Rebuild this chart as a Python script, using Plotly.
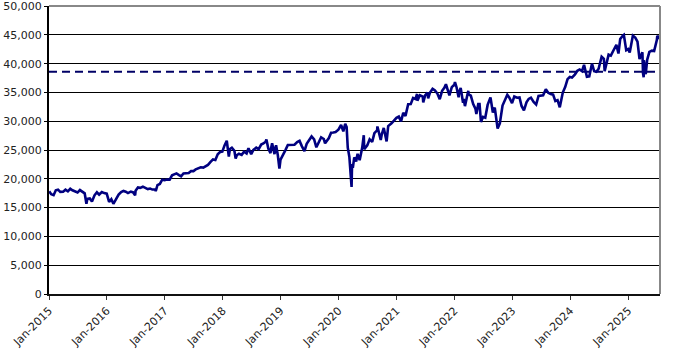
import plotly.graph_objects as go

# ---- data ----
dates = [
 "2015-01-02","2015-01-15","2015-01-30","2015-02-13","2015-02-27","2015-03-13","2015-03-31","2015-04-15","2015-04-30",
 "2015-05-15","2015-05-29","2015-06-15","2015-06-30","2015-07-15","2015-07-31","2015-08-14","2015-08-25","2015-08-31",
 "2015-09-15","2015-09-29","2015-10-15","2015-10-30","2015-11-13","2015-11-30","2015-12-15","2015-12-31",
 "2016-01-15","2016-01-29","2016-02-11","2016-02-29","2016-03-15","2016-03-31","2016-04-15","2016-04-29","2016-05-13",
 "2016-05-31","2016-06-15","2016-06-27","2016-06-30","2016-07-15","2016-07-29","2016-08-15","2016-08-31","2016-09-15",
 "2016-09-30","2016-10-14","2016-10-31","2016-11-04","2016-11-15","2016-11-30","2016-12-15","2016-12-30",
 "2017-01-13","2017-01-31","2017-02-15","2017-02-28","2017-03-15","2017-03-31","2017-04-13","2017-04-28","2017-05-15",
 "2017-05-31","2017-06-15","2017-06-30","2017-07-14","2017-07-31","2017-08-15","2017-08-31","2017-09-15","2017-09-29",
 "2017-10-13","2017-10-31","2017-11-15","2017-11-30","2017-12-15","2017-12-29",
 "2018-01-12","2018-01-26","2018-02-08","2018-02-15","2018-02-27","2018-03-15","2018-03-23","2018-03-30","2018-04-13",
 "2018-04-30","2018-05-15","2018-05-31","2018-06-12","2018-06-29","2018-07-13","2018-07-31","2018-08-15","2018-08-31",
 "2018-09-14","2018-09-28","2018-10-03","2018-10-15","2018-10-29","2018-10-31","2018-11-08","2018-11-23","2018-11-30",
 "2018-12-03","2018-12-14","2018-12-24","2018-12-31",
 "2019-01-15","2019-01-31","2019-02-15","2019-02-28","2019-03-15","2019-03-29","2019-04-15","2019-04-30","2019-05-15",
 "2019-05-31","2019-06-14","2019-06-28","2019-07-15","2019-07-31","2019-08-14","2019-08-30","2019-09-13","2019-09-30",
 "2019-10-08","2019-10-31","2019-11-15","2019-11-29","2019-12-13","2019-12-31",
 "2020-01-17","2020-01-31","2020-02-12","2020-02-21","2020-02-28","2020-03-09","2020-03-16","2020-03-23","2020-03-26",
 "2020-03-31","2020-04-09","2020-04-21","2020-04-30","2020-05-13","2020-05-29","2020-06-08","2020-06-11","2020-06-30",
 "2020-07-15","2020-07-31","2020-08-14","2020-08-31","2020-09-02","2020-09-23","2020-09-30","2020-10-12","2020-10-30",
 "2020-11-09","2020-11-30","2020-12-15","2020-12-31",
 "2021-01-15","2021-01-29","2021-02-12","2021-02-26","2021-03-15","2021-03-31","2021-04-15","2021-04-30","2021-05-10",
 "2021-05-12","2021-05-28","2021-06-15","2021-06-18","2021-06-30","2021-07-15","2021-07-19","2021-07-30","2021-08-16",
 "2021-08-31","2021-09-15","2021-09-30","2021-10-15","2021-10-29","2021-11-08","2021-11-30","2021-12-15","2021-12-31",
 "2022-01-04","2022-01-14","2022-01-27","2022-01-31","2022-02-09","2022-02-24","2022-02-28","2022-03-08","2022-03-29",
 "2022-03-31","2022-04-14","2022-04-29","2022-05-13","2022-05-19","2022-05-31","2022-06-08","2022-06-17","2022-06-30",
 "2022-07-14","2022-07-29","2022-08-16","2022-08-31","2022-09-12","2022-09-30","2022-10-14","2022-10-31","2022-11-15",
 "2022-11-30","2022-12-13","2022-12-30",
 "2023-01-13","2023-01-31","2023-02-15","2023-02-28","2023-03-15","2023-03-31","2023-04-14","2023-04-28","2023-05-15",
 "2023-05-31","2023-06-15","2023-06-30","2023-07-14","2023-07-31","2023-08-15","2023-08-31","2023-09-15","2023-09-29",
 "2023-10-13","2023-10-27","2023-10-31","2023-11-15","2023-11-30","2023-12-15","2023-12-29",
 "2024-01-12","2024-01-31","2024-02-15","2024-02-29","2024-03-15","2024-03-28","2024-04-15","2024-04-30","2024-05-17",
 "2024-05-31","2024-06-14","2024-06-28","2024-07-17","2024-07-31","2024-08-05","2024-08-30","2024-09-13","2024-09-30",
 "2024-10-18","2024-10-31","2024-11-11","2024-11-29","2024-12-04","2024-12-19","2024-12-31",
 "2025-01-10","2025-01-30","2025-02-14","2025-02-28","2025-03-13","2025-03-31","2025-04-04","2025-04-08","2025-04-09",
 "2025-04-21","2025-04-30","2025-05-14","2025-05-30","2025-06-13","2025-06-30","2025-07-03","2025-07-10","2025-07-18",
]
index_values = [
 17833,17320,17165,18019,18133,17749,17776,18112,17841,
 18272,18011,17791,17620,18050,17690,17477,15666,16528,
 16599,16049,17141,17664,17245,17720,17524,17425,
 15988,16466,15660,16517,17251,17685,17898,17774,17535,
 17787,17640,17140,17930,18517,18432,18636,18401,18212,
 18308,18138,18142,17888,18923,19124,19852,19763,
 19885,19864,20611,20812,20950,20663,20453,20941,20981,
 21009,21360,21350,21638,21891,22000,21948,22268,22405,
 22871,23377,23272,24272,24651,24719,
 25803,26617,23860,25200,25410,24873,23533,24103,24360,
 24163,24706,24416,25320,24271,25019,25415,25162,25965,
 26154,26458,26828,25250,24443,25116,26191,24286,25538,
 25826,24100,21792,23327,
 24065,24999,25883,25916,25849,25929,26385,26593,25648,
 24815,26090,26600,27359,26864,25479,26403,27220,26917,
 26164,27046,28005,28051,28135,28538,
 29348,28256,29551,28992,25409,23851,20188,18592,22552,
 21917,23719,23018,24346,23247,25383,27572,25128,25813,
 26870,26428,27931,28430,29100,26763,27782,28838,26502,
 29158,29639,30199,30606,
 30814,29983,31458,30932,32953,32982,34035,33875,34743,
 33587,34529,34299,33290,34503,34987,33962,34935,35625,
 35361,34814,33844,35295,35820,36432,34484,35927,36338,
 36799,35912,34160,35132,35768,33224,33893,32632,35294,
 34678,34451,32977,32196,31253,32990,33000,29888,30775,
 30630,32845,34152,31510,32381,28726,29634,32733,33593,
 34590,34108,33147,
 34303,34086,34128,32657,31875,33274,33886,34098,33349,
 32908,34408,34408,34509,35560,34946,34722,34618,33508,
 33670,32418,33053,34991,35951,37306,37690,
 37593,38150,38773,38996,38715,39807,37735,37816,40003,
 38686,38589,39119,41198,40843,38703,41563,41394,42330,
 43276,41763,44293,44911,45014,42342,42544,
 41938,44882,44546,43841,40813,42002,38315,37645,40608,
 38170,40669,42051,42270,42197,44095,44828,44650,44342,
]
reference_level = 38600
x_range = ["2015-01-01", "2025-07-20"]
tick_dates = [f"{y}-01-01" for y in range(2015, 2026)]
tick_labels = [f"Jan-{y}" for y in range(2015, 2026)]
y_ticks = list(range(0, 50001, 5000))
y_tick_labels = [f"{v:,}" for v in y_ticks]

NAVY = "#000080"

fig = go.Figure()
fig.add_trace(go.Scatter(
    x=x_range, y=[reference_level, reference_level], mode="lines",
    line=dict(color="#000066", width=2, dash="8px,5px"), showlegend=False, hoverinfo="skip"))
fig.add_trace(go.Scatter(
    x=dates, y=index_values, mode="lines",
    line=dict(color=NAVY, width=2.6), showlegend=False))

# gray frame on top and right
fig.add_shape(type="line", xref="paper", yref="paper", x0=0, x1=1, y0=1, y1=1,
              line=dict(color="#888888", width=2), layer="above")
fig.add_shape(type="line", xref="paper", yref="paper", x0=1, x1=1, y0=0, y1=1,
              line=dict(color="#888888", width=2), layer="above")

fig.update_layout(
    width=679, height=351,
    margin=dict(l=49, r=19, t=6, b=57, autoexpand=False),
    paper_bgcolor="white", plot_bgcolor="white",
    font=dict(family="DejaVu Sans", size=11, color="#222222"),
    xaxis=dict(
        type="date", range=x_range, automargin=False, ticklabeloverflow="allow",
        tickvals=tick_dates, ticktext=tick_labels, tickangle=-45,
        showgrid=False, zeroline=False,
        showline=True, linecolor="#111111", linewidth=2,
        ticks="outside", ticklen=4, tickcolor="#333333", tickwidth=1,
    ),
    yaxis=dict(
        range=[0, 50020], tickvals=y_ticks, ticktext=y_tick_labels, automargin=False,
        ticklabeloverflow="allow",
        showgrid=True, gridcolor="#000000", gridwidth=1,
        zeroline=False,
        showline=True, linecolor="#000000", linewidth=2,
        ticks="outside", ticklen=3, tickcolor="#000000",
    ),
)

fig.write_html("out.html")
